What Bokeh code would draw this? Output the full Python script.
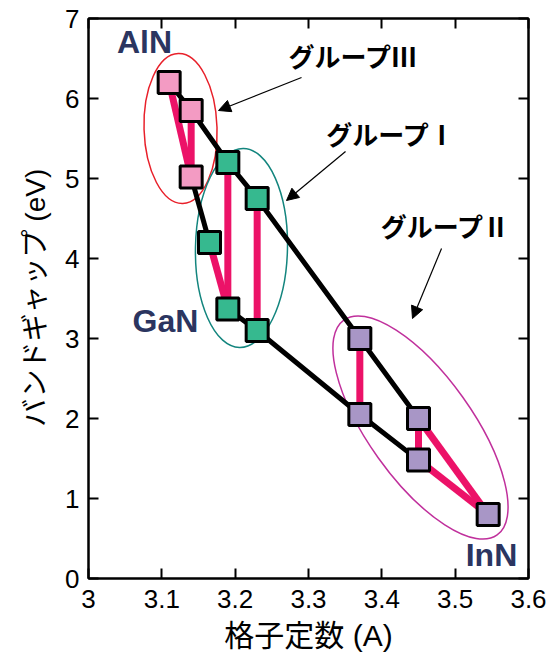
from bokeh.plotting import figure
from bokeh.models import Range1d, LinearAxis, FixedTicker, Arrow, NormalHead, Label
from bokeh.embed import file_html
from bokeh.resources import INLINE

# ---- data ----
# Group III (AlN side)
aln_x = [3.11, 3.14, 3.14]
aln_y = [6.2, 5.85, 5.02]
# Group I (GaN side)
gan_x = [3.19, 3.23, 3.165, 3.19, 3.23]
gan_y = [5.2, 4.75, 4.2, 3.37, 3.1]
# Group II (InN side)
inn_x = [3.37, 3.37, 3.45, 3.45, 3.545]
inn_y = [3.0, 2.05, 2.0, 1.48, 0.8]

all_x = aln_x + gan_x + inn_x
all_y = aln_y + gan_y + inn_y

# black connection paths (indices into all_x / all_y)
black_paths = [[0, 1, 3, 4, 8, 10], [2, 5], [6, 7, 9, 11]]
# pink connection segments
pink_paths = [[0, 2], [1, 2], [3, 6], [4, 7], [5, 6], [8, 9], [10, 11], [10, 12], [11, 12]]

x_ticks = [3.0, 3.1, 3.2, 3.3, 3.4, 3.5, 3.6]
x_tick_labels = ["3", "3.1", "3.2", "3.3", "3.4", "3.5", "3.6"]
y_ticks = [0, 1, 2, 3, 4, 5, 6, 7]

LATIN = "Liberation Sans"
MIX = "'Liberation Sans', 'Noto Sans CJK JP'"

p = figure(width=547, height=654, x_range=Range1d(3, 3.6), y_range=Range1d(0, 7),
           output_backend="svg", toolbar_location=None,
           min_border_left=88, min_border_right=19, min_border_top=18, min_border_bottom=76,
           x_axis_label="格子定数 (A)", y_axis_label="バンドギャップ (eV)")
p.xgrid.visible = False
p.ygrid.visible = False
p.outline_line_color = "black"
p.outline_line_width = 2
p.background_fill_color = "white"
p.border_fill_color = "white"

def style_axis(ax, ticks, show_labels=True):
    ax.ticker = FixedTicker(ticks=ticks)
    ax.major_tick_in = 10
    ax.major_tick_out = 0
    ax.minor_tick_in = 0
    ax.minor_tick_out = 0
    ax.major_tick_line_width = 2
    ax.major_tick_line_color = "black"
    ax.axis_line_width = 2
    ax.axis_line_color = "black"
    if show_labels:
        ax.major_label_text_font = LATIN
        ax.major_label_text_font_size = "26px"
        ax.major_label_text_color = "black"
    else:
        ax.major_label_text_font_size = "1px"
        ax.major_label_text_color = None
        ax.major_label_standoff = 0

xa = p.xaxis[0]
style_axis(xa, x_ticks)
xa.major_label_overrides = {t: l for t, l in zip(x_ticks, x_tick_labels)}
xa.major_label_standoff = 11
xa.axis_label_text_font = MIX
xa.axis_label_text_font_size = "30px"
xa.axis_label_text_font_style = "normal"
xa.axis_label_text_color = "black"
xa.axis_label_standoff = 8

ya = p.yaxis[0]
style_axis(ya, y_ticks)
ya.major_label_standoff = 9
ya.axis_label_text_font = MIX
ya.axis_label_text_font_size = "28px"
ya.axis_label_text_font_style = "normal"
ya.axis_label_text_color = "black"
ya.axis_label_standoff = 11

top = LinearAxis()
style_axis(top, x_ticks, show_labels=False)
p.add_layout(top, "above")
right = LinearAxis()
style_axis(right, y_ticks, show_labels=False)
p.add_layout(right, "right")

# ellipses (screen-sized)
p.ellipse(x=3.1255, y=5.625, width=73, height=150, width_units="screen", height_units="screen",
          angle=0.03, fill_color=None, line_color="#E8202A", line_width=1.5)
p.ellipse(x=3.2086, y=4.131, width=92, height=199, width_units="screen", height_units="screen",
          angle=-0.02, fill_color=None, line_color="#13857E", line_width=1.5)
p.ellipse(x=3.4527, y=1.8875, width=264, height=104, width_units="screen", height_units="screen",
          angle=-0.951, fill_color=None, line_color="#C0309C", line_width=1.5)

# connection lines
p.multi_line(xs=[[all_x[i] for i in path] for path in pink_paths],
             ys=[[all_y[i] for i in path] for path in pink_paths],
             line_color="#EC1268", line_width=7)
p.multi_line(xs=[[all_x[i] for i in path] for path in black_paths],
             ys=[[all_y[i] for i in path] for path in black_paths],
             line_color="black", line_width=5, line_join="miter")

# markers
p.scatter(aln_x, aln_y, marker="square", size=22, fill_color="#F39BC3", line_color="black", line_width=3)
p.scatter(gan_x, gan_y, marker="square", size=22, fill_color="#36B98F", line_color="black", line_width=3)
p.scatter(inn_x, inn_y, marker="square", size=22, fill_color="#A896C6", line_color="black", line_width=3)

# compound labels
for lx, ly, txt in [(3.0764, 6.71, "AlN"), (3.105, 3.225, "GaN"), (3.5495, 0.3, "InN")]:
    p.add_layout(Label(x=lx, y=ly, text=txt, text_font=LATIN, text_font_style="bold",
                       text_font_size="32px", text_color="#2B3560",
                       text_align="center", text_baseline="middle"))

# group labels
for lx, ly, txt in [(3.3614, 6.54, "グループⅢ"), (3.413, 5.5625, "グループⅠ"), (3.487, 4.41, "グループⅡ")]:
    p.add_layout(Label(x=lx, y=ly, text=txt, text_font="Noto Sans CJK JP", text_font_style="bold",
                       text_font_size="26px", text_color="black",
                       text_align="center", text_baseline="middle"))

# arrows
for xs_, ys_, xe_, ye_ in [(3.2905, 6.2625, 3.1773, 5.85),
                           (3.3505, 5.3375, 3.27, 4.725),
                           (3.4814, 4.125, 3.4418, 3.25)]:
    p.add_layout(Arrow(end=NormalHead(size=12, fill_color="black", line_color="black", line_width=1),
                       x_start=xs_, y_start=ys_, x_end=xe_, y_end=ye_,
                       line_color="black", line_width=1.2))

open("out.html", "w").write(file_html(p, INLINE))
